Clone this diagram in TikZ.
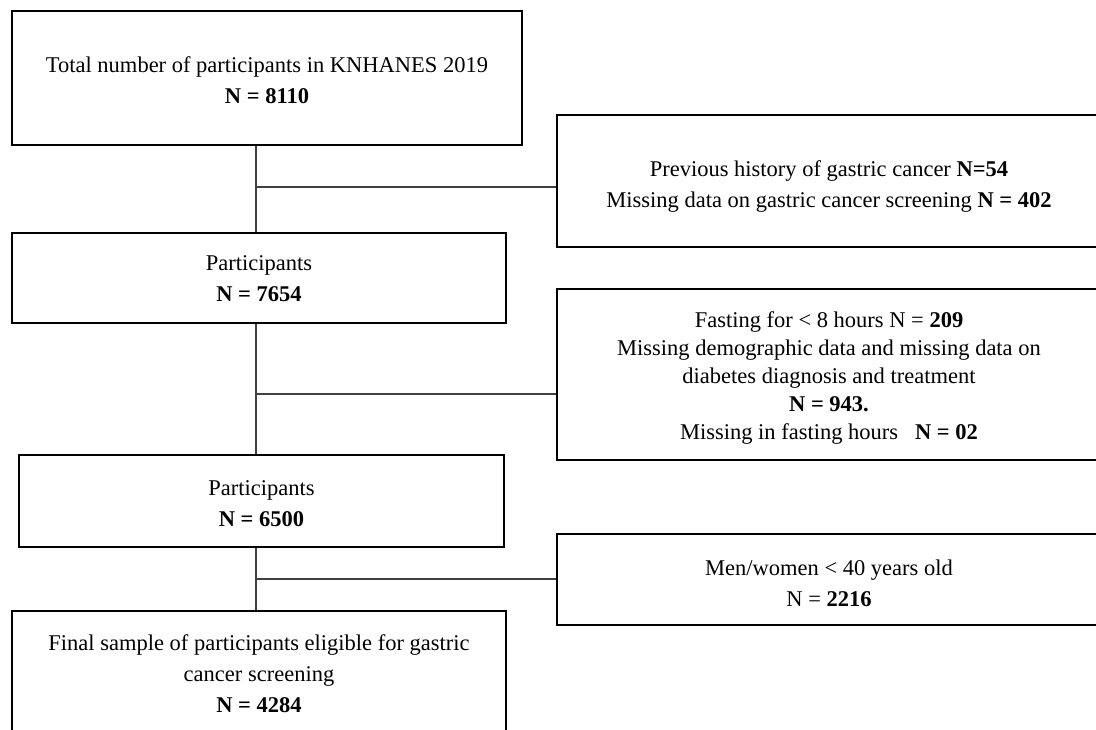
\documentclass[tikz,border=0pt]{standalone}
\usepackage{fontspec}
\setmainfont{Liberation Serif}
\begin{document}
\begin{tikzpicture}[x=1pt,y=-1pt,
  box/.style={draw=black,line width=2pt,inner sep=0pt},
  txt/.style={align=center,inner sep=0pt,font=\fontsize{22.5}{31}\selectfont},
  link/.style={draw=black!75,line width=1.1pt}]
\useasboundingbox (0,0) rectangle (1096,729);
\clip (0,0) rectangle (1096,729);
% main column
\node[box,minimum width=510pt,minimum height=134pt] (b1) at (267,78) {};
\node[txt] (t1) at ([yshift=-2pt]b1.center)
  {Total number of participants in KNHANES 2019\\ \textbf{N = 8110}};
\node[box,minimum width=494pt,minimum height=90pt] (b2) at (259,278) {};
\node[txt] (t2) at ([yshift=-1pt]b2.center)
  {Participants\\ \textbf{N = 7654}};
\node[box,minimum width=485pt,minimum height=92pt] (b3) at (261.5,501) {};
\node[txt] (t3) at ([yshift=-3pt]b3.center)
  {Participants\\ \textbf{N = 6500}};
\node[box,minimum width=494pt,minimum height=126pt,anchor=north] (b4) at (259,610) {};
\node[txt] (t4) at (b4.center)
  {Final sample of participants eligible for gastric\\ cancer screening\\ \textbf{N = 4284}};
% exclusion boxes
\node[box,minimum width=544pt,minimum height=132pt] (r1) at (829,181) {};
\node[txt] (u1) at ([yshift=-6pt]r1.center)
  {Previous history of gastric cancer \textbf{N=54}\\
   Missing data on gastric cancer screening \textbf{N = 402}};
\node[box,minimum width=544pt,minimum height=171pt] (r2) at (829,374.5) {};
\node[txt,font=\fontsize{22.5}{28}\selectfont] (u2) at ([yshift=-3pt]r2.center)
  {Fasting for < 8 hours N = \textbf{209}\\
   Missing demographic data and missing data on\\
   diabetes diagnosis and treatment\\
   \textbf{N = 943.}\\
   Missing in fasting hours\ \ \ \textbf{N = 02}};
\node[box,minimum width=544pt,minimum height=91pt] (r3) at (829,579.5) {};
\node[txt] (u3) at ([yshift=-4pt]r3.center)
  {Men/women < 40 years old\\ N = \textbf{2216}};
% connectors
\coordinate (s1) at (256,187);
\coordinate (s2) at (256,394);
\coordinate (s3) at (256,579);
\draw[link] (b1.south -| s1) -- (b2.north -| s1);
\draw[link] (b2.south -| s2) -- (b3.north -| s2);
\draw[link] (b3.south -| s3) -- (b4.north -| s3);
\draw[link] (s1) -- (s1 -| r1.west);
\draw[link] (s2) -- (s2 -| r2.west);
\draw[link] (s3) -- (s3 -| r3.west);
\end{tikzpicture}
\end{document}
